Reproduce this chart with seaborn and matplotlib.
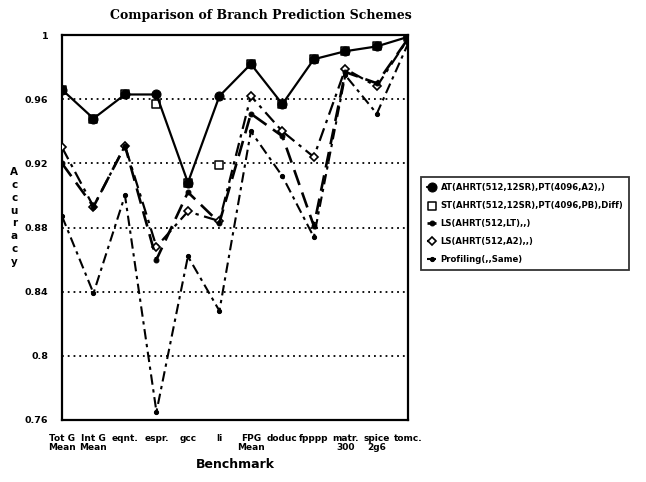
import numpy as np
import pandas as pd
from matplotlib import pyplot as plt
import seaborn as sns

categories = ["Tot G\nMean", "Int G\nMean", "eqnt.", "espr.", "gcc", "li",
              "FPG\nMean", "doduc", "fpppp", "matr.\n300", "spice\n2g6", "tomc."]

at_acc = [0.966, 0.948, 0.963, 0.963, 0.908, 0.962, 0.982, 0.957, 0.985, 0.990, 0.993, 0.999]
st_acc = [0.966, 0.948, 0.963, 0.957, 0.908, 0.919, 0.982, 0.957, 0.985, 0.990, 0.993, 0.999]
ls_lt_acc = [0.920, 0.893, 0.931, 0.860, 0.902, 0.883, 0.951, 0.937, 0.881, 0.977, 0.970, 0.998]
ls_a2_acc = [0.930, 0.893, 0.931, 0.868, 0.890, 0.884, 0.962, 0.940, 0.924, 0.979, 0.968, 0.998]
prof_acc = [0.887, 0.839, 0.900, 0.765, 0.862, 0.828, 0.940, 0.912, 0.874, 0.975, 0.951, 0.995]

labels = ["AT(AHRT(512,12SR),PT(4096,A2),)",
          "ST(AHRT(512,12SR),PT(4096,PB),Diff)",
          "LS(AHRT(512,LT),,)",
          "LS(AHRT(512,A2),,)",
          "Profiling(,,Same)"]

y_ticks = [0.76, 0.8, 0.84, 0.88, 0.92, 0.96, 1.0]
y_tick_labels = ["0.76", "0.8", "0.84", "0.88", "0.92", "0.96", "1"]

sns.set_style("white")
plt.rcParams["font.family"] = ["DejaVu Sans"]
plt.rcParams["text.color"] = "black"
plt.rcParams["xtick.color"] = "black"
plt.rcParams["ytick.color"] = "black"
plt.rcParams["axes.labelcolor"] = "black"

pos = np.arange(len(categories))
fig = plt.figure(figsize=(6.46, 4.82), dpi=100)
ax = fig.add_axes([0.096, 0.129, 0.536, 0.798])

# dotted grid first so lines sit on top
for g in y_ticks[1:-1]:
    ax.axhline(g, color="black", lw=1.3, linestyle=(0, (1, 2.2)), zorder=1)

sns.lineplot(x=pos, y=prof_acc, ax=ax, color="black", lw=1.5, sort=False,
             linestyle=(0, (5, 2.2, 1.6, 2.2)), marker="o", markersize=3,
             markeredgecolor="black", label=labels[4], zorder=3)
sns.lineplot(x=pos, y=ls_a2_acc, ax=ax, color="black", lw=1.6, sort=False,
             linestyle=(0, (6, 2.5, 1.5, 2.5)), marker="D", markersize=4.5,
             markerfacecolor="white", markeredgecolor="black", markeredgewidth=1.2,
             label=labels[3], zorder=4)
sns.lineplot(x=pos, y=ls_lt_acc, ax=ax, color="black", lw=1.9, sort=False,
             linestyle=(0, (6, 3)), marker="o", markersize=3.5,
             markeredgecolor="black", label=labels[2], zorder=4)
# ST only shows where it departs from AT; AT circles cover the rest
sns.scatterplot(x=pos, y=st_acc, ax=ax, marker="s", s=26, facecolor="white",
                edgecolor="black", linewidth=1.1, label=labels[1], zorder=5)
sns.lineplot(x=pos, y=at_acc, ax=ax, color="black", lw=1.6, sort=False,
             marker="o", markersize=6.5, markeredgecolor="black", label=labels[0], zorder=6)

ax.set_xlim(0, len(categories) - 1)
ax.set_ylim(0.76, 1.0)
ax.set_xticks(pos)
ax.set_xticklabels(categories, fontsize=6.5, fontweight="bold", linespacing=1.1)
ax.set_yticks(y_ticks)
ax.set_yticklabels(y_tick_labels, fontsize=6.8, fontweight="bold")
ax.tick_params(axis="both", direction="inout", length=8, width=1.2, color="black",
               labelcolor="black", pad=6)
for s in ax.spines.values():
    s.set_color("black")
    s.set_linewidth(1.6)

ax.set_xlabel("Benchmark", fontsize=9, fontweight="bold", labelpad=4, color="black")
ax.set_ylabel("")
fig.text(0.022, 0.55, "\n".join("Accuracy"), fontsize=7.5, fontweight="bold",
         ha="center", va="center", linespacing=1.35, color="black")
fig.text(0.404, 0.967, "Comparison of Branch Prediction Schemes", family="DejaVu Serif",
         fontsize=9, fontweight="bold", ha="center", va="center", color="black")

handles, leg_labels = ax.get_legend_handles_labels()
order = [leg_labels.index(l) for l in labels]
leg = ax.legend([handles[i] for i in order], labels, loc="upper left",
                bbox_to_anchor=(0.652, 0.632), bbox_transform=fig.transFigure,
                prop={"weight": "bold", "size": 6.1}, frameon=True,
                fancybox=False, edgecolor="black", handlelength=1.1,
                labelspacing=1.05, borderpad=0.7, borderaxespad=0,
                handletextpad=0.5, labelcolor="black")
leg.get_frame().set_linewidth(1.3)

fig.savefig("out.png", dpi=100)
